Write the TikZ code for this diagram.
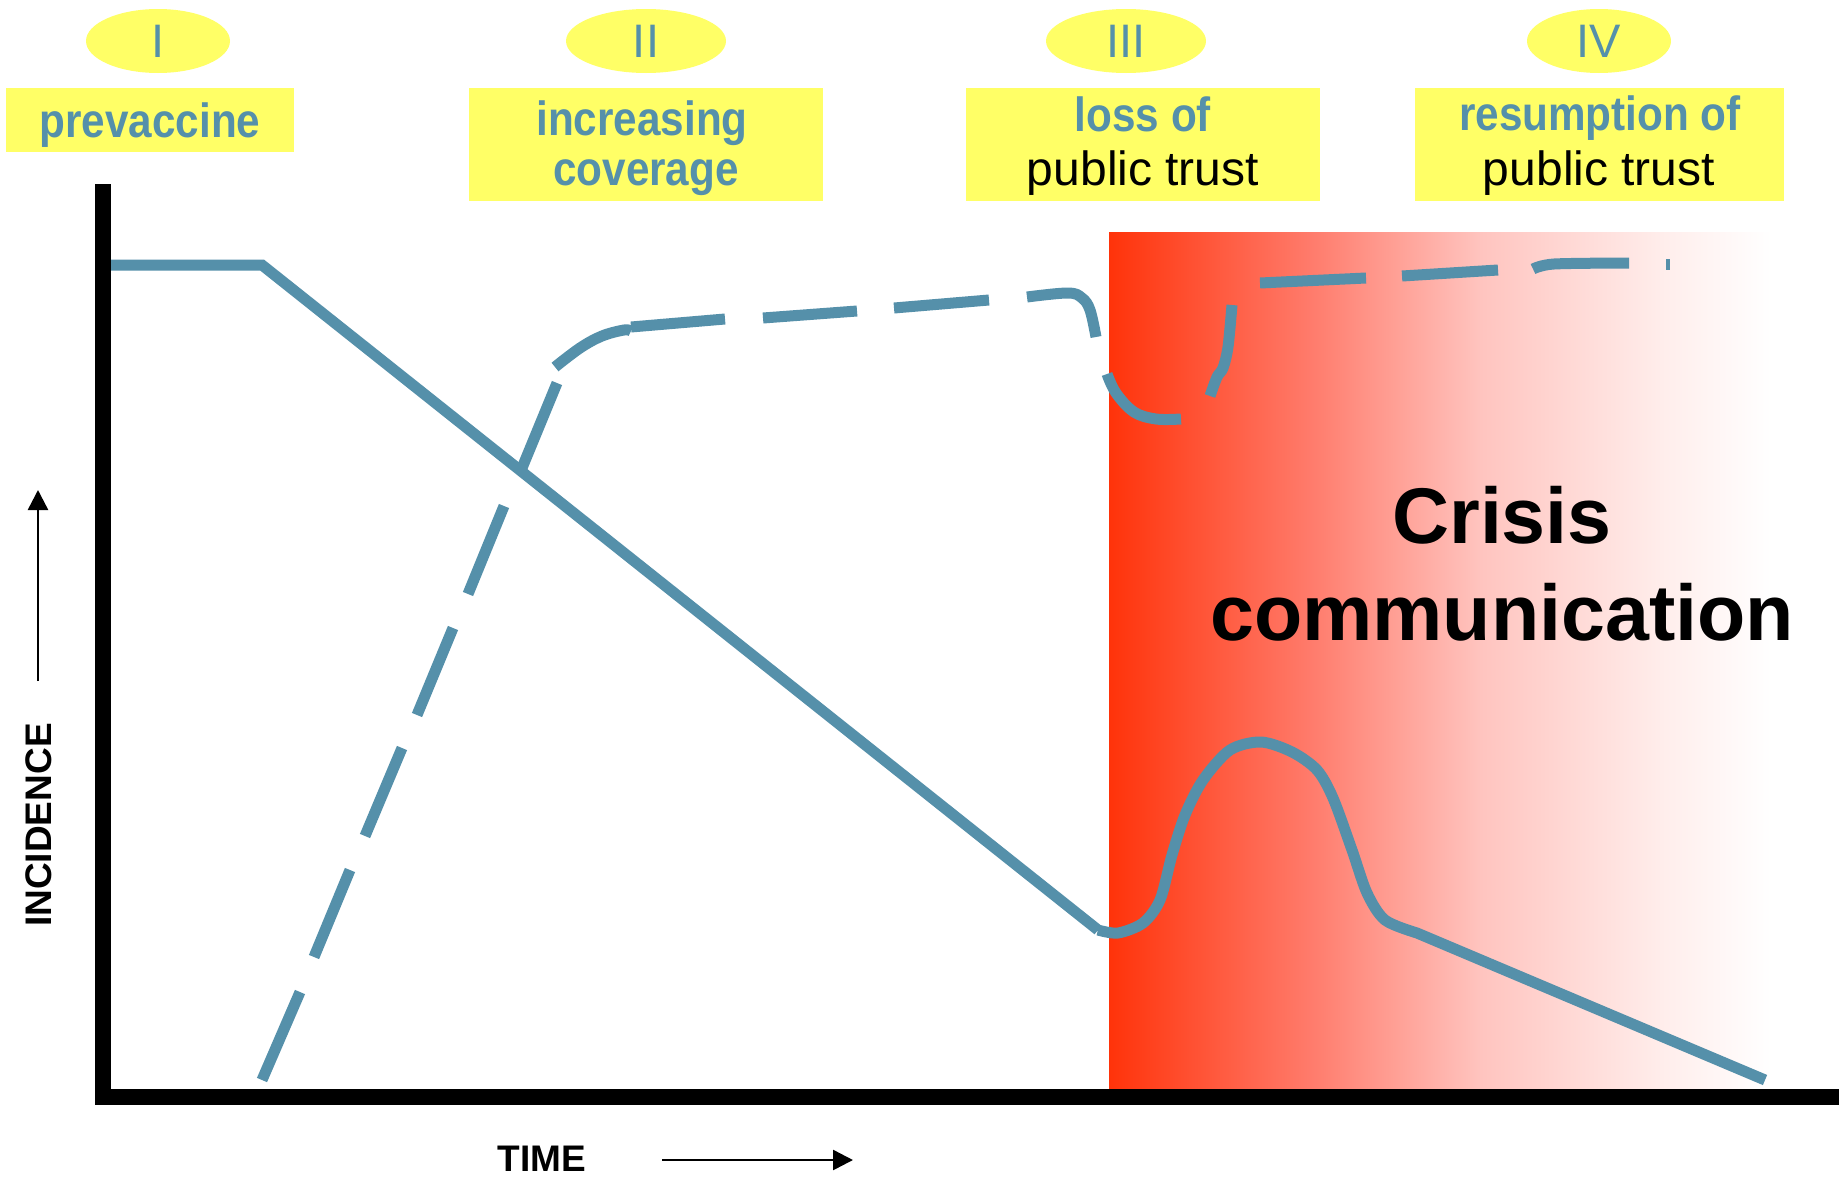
\documentclass[tikz,border=0pt]{standalone}
\usepackage{fontspec}
\setmainfont{Liberation Sans}
\newfontfamily\narrowsans[FakeStretch=0.88]{Liberation Sans}
\usetikzlibrary{arrows.meta,shapes.geometric}
\definecolor{tealline}{RGB}{85,144,170}
\definecolor{hiyellow}{RGB}{255,255,102}
\definecolor{redA}{RGB}{255,51,10}
\definecolor{redB}{RGB}{255,122,106}
\definecolor{redC}{RGB}{255,196,191}
\definecolor{redD}{RGB}{255,238,236}
\pgfdeclarehorizontalshading{crisisshade}{100bp}{color(0bp)=(redA); color(25bp)=(redA); color(40bp)=(redB); color(53bp)=(redC); color(67bp)=(redD); color(75bp)=(white); color(100bp)=(white)}
\tikzset{
  numell/.style={ellipse, fill=hiyellow, minimum width=#1, minimum height=64pt, inner sep=0pt, text=tealline, font=\fontsize{47}{47}\selectfont},
  phasebox/.style={fill=hiyellow, inner sep=0pt},
  hdrb/.style={font=\narrowsans\bfseries\fontsize{48}{48}\selectfont, text=tealline, inner sep=0pt, anchor=base},
  hdrr/.style={font=\fontsize{48}{48}\selectfont, text=black, inner sep=0pt, anchor=base},
  curveline/.style={draw=tealline, line width=11pt},
  axisline/.style={draw=black, line width=16pt},
  labelb/.style={font=\bfseries\fontsize{37}{37}\selectfont, inner sep=0pt},
  bigb/.style={font=\bfseries\fontsize{79}{79}\selectfont, inner sep=0pt, anchor=base},
  thinarrow/.style={draw=black, line width=2.5pt, -{Triangle[length=20pt,width=20pt]}}
}
\begin{document}
\begin{tikzpicture}[x=1pt,y=-1pt]
\useasboundingbox (0,0) rectangle (1839,1178);
\fill[white] (0,0) rectangle (1839,1178);

% crisis region
\shade[shading=crisisshade] (1109,232) rectangle (1772,1090);

% phase ellipses
\node[numell=144pt] (eI) at (158,41) {I};
\node[numell=160pt] (eII) at (646,41) {II};
\node[numell=160pt] (eIII) at (1126,41) {III};
\node[numell=144pt] (eIV) at (1599,41) {IV};

% phase boxes
\node[phasebox, minimum width=288pt, minimum height=64pt] (bI) at (150,120) {};
\node[phasebox, minimum width=354pt, minimum height=113pt] (bII) at (646,144.5) {};
\node[phasebox, minimum width=354pt, minimum height=113pt] (bIII) at (1143,144.5) {};
\node[phasebox, minimum width=369pt, minimum height=113pt] (bIV) at (1599.5,144.5) {};

\node[hdrb] (tI) at (150,137) {prevaccine};
\node[hdrb] (tIIa) at (642,135) {increasing};
\node[hdrb] (tIIb) at (646,185) {coverage};
\node[hdrb] (tIIIa) at (1143,131) {loss of};
\node[hdrr] (tIIIb) at (1143,185) {public trust};
\node[hdrb] (tIVa) at (1600,130) {resumption of};
\node[hdrr] (tIVb) at (1599,185) {public trust};

% incidence (solid)
\draw[curveline] (111,265) -- (262,265) -- (1098,930)
  plot[smooth, tension=0.5] coordinates {(1098,930) (1118,933) (1143,923) (1160,900) (1172,855) (1185,815) (1203,780) (1230,750) (1261,742) (1292,752) (1317,770) (1333,798) (1352,850) (1367,893) (1385,920) (1417,933)}
  -- (1765,1080);

% coverage (dashed)
\draw[curveline] (262,1080) -- (300,992);
\draw[curveline] (314,957) -- (350,870);
\draw[curveline] (365,836) -- (402,748);
\draw[curveline] (417,715) -- (453,628);
\draw[curveline] (468,594) -- (504,506);
\draw[curveline] (522,468) -- (557,383);
\draw[curveline] plot[smooth, tension=0.6] coordinates {(555,367) (580,348) (602,336) (624,330) (631,331)};
\draw[curveline] (631,327) -- (725,319);
\draw[curveline] (763,318) -- (857,311);
\draw[curveline] (894,308) -- (989,300);
\draw[curveline] plot[smooth, tension=0.6] coordinates {(1027,297) (1068,293) (1082,298) (1090,310) (1096,337)};
\draw[curveline] plot[smooth, tension=0.6] coordinates {(1107,374) (1116,393) (1134,412) (1156,419) (1181,419)};
\draw[curveline] plot[smooth, tension=0.5] coordinates {(1210,396) (1217,377) (1223,368) (1228,347) (1232,305)};
\draw[curveline] (1260,283) -- (1366,278);
\draw[curveline] (1402,276) -- (1498,270);
\draw[curveline] plot[smooth, tension=0.5] coordinates {(1533,269) (1554,264) (1629,263)};
\draw[curveline] (1666,264) -- (1670,264);

% crisis text
\node[bigb] (crA) at (1502,543) {Crisis};
\node[bigb] (crB) at (1502,640) {communication};

% axes
\draw[axisline] (102.5,184) -- (102.5,1105);
\draw[axisline] (102.5,1097) -- (1839,1097);

% axis labels
\node[labelb, rotate=90] (inc) at (39,825) {INCIDENCE};
\coordinate (incA) at (38,681);
\coordinate (incB) at (38,490);
\draw[thinarrow] (incA) -- (incB);
\node[labelb, anchor=base] (time) at (542,1171) {TIME};
\coordinate (timeA) at (662,1160);
\coordinate (timeB) at (853,1160);
\draw[thinarrow] (timeA) -- (timeB);
\end{tikzpicture}
\end{document}
